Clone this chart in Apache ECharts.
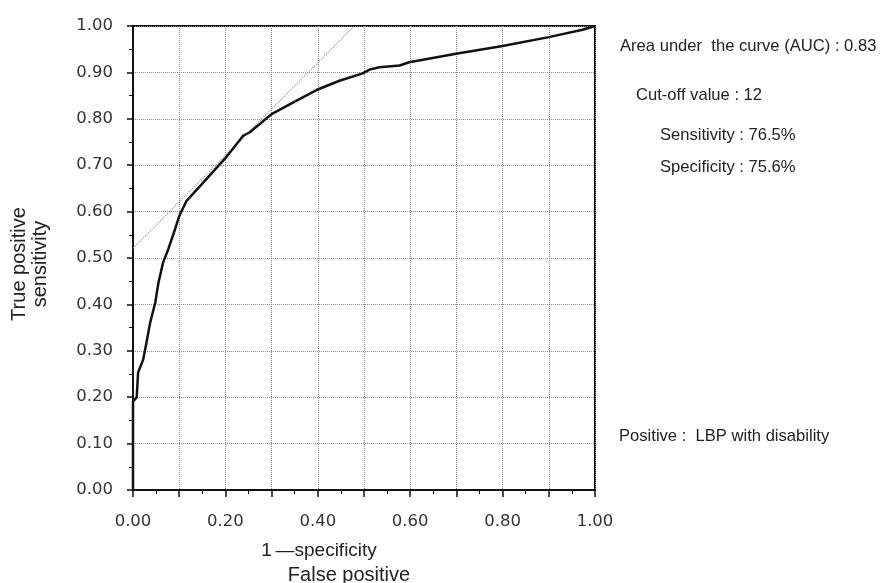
<!DOCTYPE html>
<html>
<head>
<meta charset="utf-8">
<script src="https://cdn.jsdelivr.net/npm/echarts@6/dist/echarts.min.js"></script>
<style>html,body{margin:0;padding:0;background:#fff;}#c{width:883px;height:583px;}</style>
</head>
<body>
<div id="c"></div>
<script>
// ROC curve (1 - specificity, sensitivity)
const rocX = [0, 0, 0, 0.008, 0.011, 0.022, 0.029, 0.037, 0.048, 0.055, 0.065, 0.076, 0.091, 0.100, 0.106, 0.116, 0.145, 0.199, 0.238, 0.253, 0.300, 0.346, 0.397, 0.447, 0.497, 0.512, 0.533, 0.577, 0.598, 0.699, 0.800, 0.900, 0.973, 1.0];
const rocY = [0, 0.10, 0.19, 0.20, 0.253, 0.281, 0.317, 0.360, 0.403, 0.446, 0.490, 0.518, 0.562, 0.590, 0.603, 0.623, 0.655, 0.714, 0.763, 0.771, 0.810, 0.835, 0.862, 0.882, 0.898, 0.906, 0.911, 0.915, 0.922, 0.940, 0.957, 0.976, 0.992, 1.0];
// tangent line at the cut-off
const tangentX = [0, 0.479];
const tangentY = [0.521, 1.0];
// tick labels
const xTickLabels = ['0.00', '0.20', '0.40', '0.60', '0.80', '1.00'];
const yTickLabels = ['0.00', '0.10', '0.20', '0.30', '0.40', '0.50', '0.60', '0.70', '0.80', '0.90', '1.00'];
// annotations
const notes = [
  'Area under  the curve (AUC) : 0.83',
  'Cut-off value : 12',
  'Sensitivity : 76.5%',
  'Specificity : 75.6%',
  'Positive :  LBP with disability'
];
const yName = 'True positive\nsensitivity';
const xName1 = '1\u2009\u2014specificity';
const xName2 = 'False positive';

const chart = echarts.init(document.getElementById('c'));
const tickFont = {fontFamily: 'DejaVu Sans', fontSize: 16.5, color: '#333'};
const textFont = 'Liberation Sans';
const noteStyle = (t, x, y) => ({type: 'text', x: x, y: y, style: {text: t, fill: '#222', font: '16.6px "' + textFont + '"', textAlign: 'left', textVerticalAlign: 'middle'}});

chart.setOption({
  animation: false,
  backgroundColor: '#fff',
  grid: {left: 133, top: 26, width: 462, height: 464, show: true, borderColor: '#111', borderWidth: 2},
  xAxis: {
    type: 'value', min: 0, max: 1, interval: 0.1,
    axisLine: {show: true, lineStyle: {color: '#111', width: 2}},
    axisTick: {show: true, length: 7, lineStyle: {color: '#111', width: 1.5}},
    minorTick: {show: true, splitNumber: 2, length: 4, lineStyle: {color: '#111'}},
    splitLine: {show: true, lineStyle: {color: '#888', type: 'dotted', width: 1}},
    axisLabel: Object.assign({margin: 23, formatter: v => { const i = Math.round(v * 10); return i % 2 === 0 ? xTickLabels[i / 2] : ''; }}, tickFont)
  },
  yAxis: {
    type: 'value', min: 0, max: 1, interval: 0.1,
    axisLine: {show: true, lineStyle: {color: '#111', width: 2}},
    axisTick: {show: true, length: 6, lineStyle: {color: '#111', width: 1.5}},
    minorTick: {show: true, splitNumber: 2, length: 4, lineStyle: {color: '#111'}},
    splitLine: {show: true, lineStyle: {color: '#888', type: 'dotted', width: 1}},
    axisLabel: Object.assign({margin: 20, formatter: v => yTickLabels[Math.round(v * 10)]}, tickFont)
  },
  series: [
    {type: 'line', data: tangentX.map((x, i) => [x, tangentY[i]]), showSymbol: false, silent: true,
     lineStyle: {color: '#999', width: 1.2, type: 'dotted'}, z: 2},
    {type: 'line', data: rocX.map((x, i) => [x, rocY[i]]), showSymbol: false, silent: true,
     lineStyle: {color: '#111', width: 2.5}, z: 3}
  ],
  graphic: [
    {type: 'text', x: 30, y: 264, rotation: Math.PI / 2, style: {text: yName, fill: '#222', font: '20px "' + textFont + '"', textAlign: 'center', textVerticalAlign: 'middle', lineHeight: 21}},
    {type: 'text', x: 319, y: 551, style: {text: xName1, fill: '#222', font: '19px "' + textFont + '"', textAlign: 'center', textVerticalAlign: 'middle'}},
    {type: 'text', x: 349, y: 575, style: {text: xName2, fill: '#222', font: '20px "' + textFont + '"', textAlign: 'center', textVerticalAlign: 'middle'}},
    noteStyle(notes[0], 620, 46),
    noteStyle(notes[1], 636, 95),
    noteStyle(notes[2], 660, 135),
    noteStyle(notes[3], 660, 167),
    noteStyle(notes[4], 619, 436)
  ]
});
</script>
</body>
</html>
